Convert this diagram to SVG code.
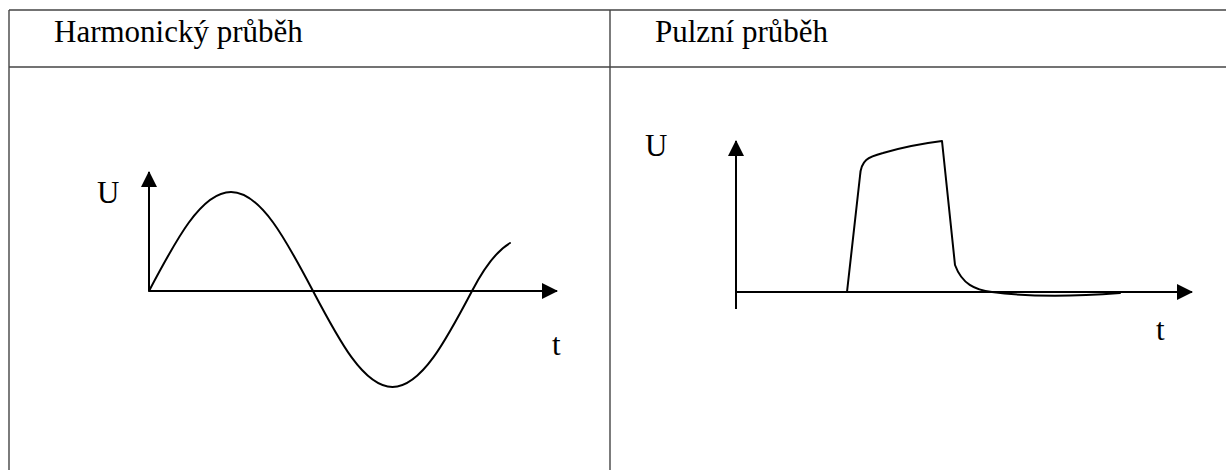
<svg xmlns="http://www.w3.org/2000/svg" width="1226" height="470" viewBox="0 0 1226 470">
<style>
.grid{stroke:#444;stroke-width:1.4;fill:none}
.ax{stroke:#000;stroke-width:2;fill:none}
.curve{stroke:#000;stroke-width:2;fill:none;stroke-linejoin:round;stroke-linecap:round}
text{font-family:"Liberation Serif","Times New Roman","DejaVu Serif",serif;font-size:31px;fill:#000}
</style>
<defs>
<marker id="arr" markerWidth="16" markerHeight="16" refX="15" refY="8" orient="auto" markerUnits="userSpaceOnUse">
<path d="M0,0 L16,8 L0,16 Z" fill="#000"/>
</marker>
</defs>
<rect width="1226" height="470" fill="#fff"/>
<g id="table">
<line class="grid" x1="9" y1="10" x2="1226" y2="10"/>
<line class="grid" x1="9" y1="67" x2="1226" y2="67"/>
<line class="grid" x1="9" y1="10" x2="9" y2="470"/>
<line class="grid" x1="610" y1="10" x2="610" y2="470"/>
<text font-family="Liberation Serif, Times New Roman, serif" x="54" y="42">Harmonický průběh</text>
<text font-family="Liberation Serif, Times New Roman, serif" x="655" y="42">Pulzní průběh</text>
</g>
<g id="connectors">
<line class="ax" x1="149" y1="291" x2="149" y2="172" marker-end="url(#arr)"/>
<line class="ax" x1="149" y1="291" x2="557" y2="291" marker-end="url(#arr)"/>
<line class="ax" x1="736" y1="309" x2="736" y2="141" marker-end="url(#arr)"/>
<line class="ax" x1="736" y1="292" x2="1192" y2="292" marker-end="url(#arr)"/>
</g>
<g id="harmonic">
<text font-family="Liberation Serif, Times New Roman, serif" x="97" y="203">U</text>
<text font-family="Liberation Serif, Times New Roman, serif" x="552" y="355">t</text>
<path class="curve" d="M149,291 C175.7,240.3 201.3,192 231,192 C260.7,192 286.3,240.3 313,291 C338.9,340.2 363.7,387 392.5,387 C421.3,387 446.1,340.2 472,291 C484,268 498,250 510,243"/>
</g>
<g id="pulse">
<text font-family="Liberation Serif, Times New Roman, serif" x="645" y="156">U</text>
<text font-family="Liberation Serif, Times New Roman, serif" x="1156" y="340">t</text>
<path class="curve" d="M847,292 L860,176 C861,160 868,157 883,153 Q910,145 942,141 L955,265 C962,284 975,290 992,292 C1030,297 1080,296 1120,293"/>
</g>
</svg>
